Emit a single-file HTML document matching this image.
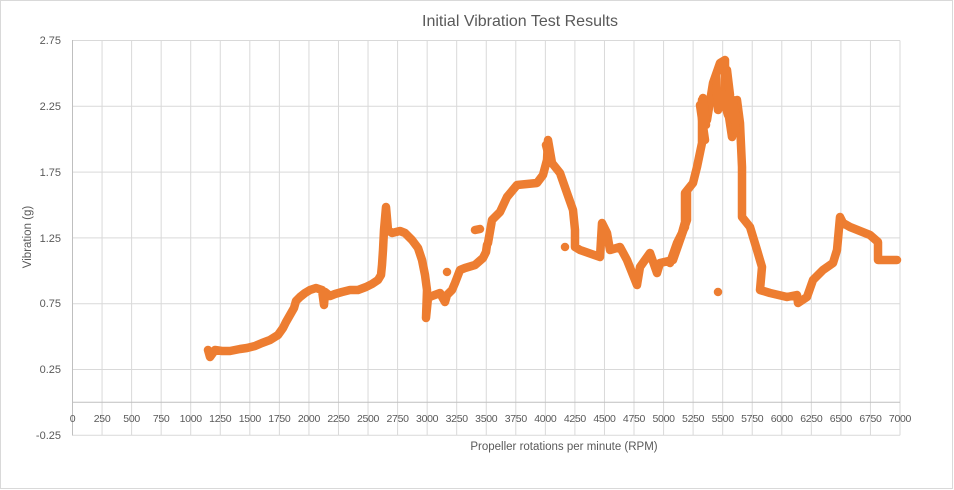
<!DOCTYPE html>
<html><head><meta charset="utf-8"><style>
html,body{margin:0;padding:0;background:#fff}
svg{display:block;font-family:"Liberation Sans",sans-serif}
</style></head><body>
<svg width="954" height="490" viewBox="0 0 954 490">
<rect x="0.5" y="0.5" width="952" height="488" fill="#fff" stroke="#d9d9d9"/>
<g stroke="#d9d9d9" stroke-width="1">
<line x1="72.5" y1="40.5" x2="900" y2="40.5"/>
<line x1="72.5" y1="106.3" x2="900" y2="106.3"/>
<line x1="72.5" y1="172.1" x2="900" y2="172.1"/>
<line x1="72.5" y1="237.9" x2="900" y2="237.9"/>
<line x1="72.5" y1="303.7" x2="900" y2="303.7"/>
<line x1="72.5" y1="369.5" x2="900" y2="369.5"/>
<line x1="72.5" y1="435.3" x2="900" y2="435.3"/>
</g>
<g id="vg" stroke="#d9d9d9" stroke-width="1"></g>
<line x1="72.5" y1="40" x2="72.5" y2="435.5" stroke="#bfbfbf"/>
<line x1="72.5" y1="402.3" x2="900" y2="402.3" stroke="#bfbfbf"/>
<g font-size="11" fill="#595959" text-anchor="end">
<text x="61" y="44">2.75</text><text x="61" y="110">2.25</text><text x="61" y="176">1.75</text>
<text x="61" y="242">1.25</text><text x="61" y="307">0.75</text><text x="61" y="373">0.25</text><text x="61" y="439">-0.25</text>
</g>
<g id="xl" font-size="10.5" fill="#595959" text-anchor="middle" letter-spacing="-0.3"></g>
<text x="520" y="26" font-size="16" fill="#595959" text-anchor="middle">Initial Vibration Test Results</text>
<text x="564" y="450" font-size="11.5" fill="#595959" text-anchor="middle">Propeller rotations per minute (RPM)</text>
<text transform="translate(31,237) rotate(-90)" font-size="11.5" fill="#595959" text-anchor="middle">Vibration (g)</text>
<g fill="none" stroke="#ED7D31" stroke-width="8.5" stroke-linecap="round" stroke-linejoin="round">
<path d="M208,350 L210,357 L215,350 L222,351 L230,351 L240,349 L247,348 L255,346 L262,343 L270,340 L278,335 L283,328 L286,322 L290,315 L294,308 L296,301 L300,297 L305,293 L310,290 L316,288 L322,290 L324,305 L325,292 L330,296 L335,294 L342,292 L350,290 L358,290 L366,287 L372,284 L378,280 L381,275 L382,265 L383,250 L384,230 L386,207 L388,230 L392,233 L400,231 L405,233 L412,240 L418,248 L422,260 L425,275 L427,290 L426,318 L428,298 L432,296 L440,293 L445,302 L447,295 L452,290 L455,283 L460,270 L465,268 L475,265 L483,258 L486,252 L487,245 L488,243 L492,220 L500,212 L507,197 L517,185 L537,183 L543,175 L547,160 L548,140 L552,163 L560,173 L567,193 L573,210 L575,230 L575,247 L580,250 L600,257 L602,223 L607,233 L610,250 L620,247 L627,260 L637,285 L640,267 L650,253 L657,273 L660,263 L673,260 L680,240 L687,220 L687,192 L687,215 L680,240 L670,263 L677,243 L685,227 L685,193 L693,183 L697,167 L702,143 L702,100 L707,120 L713,83 L720,63 L725,60 L725,90 L732,137 L737,100 L740,123 L742,167 L742,217 L750,227 L757,250 L762,267 L760,290 L770,293 L787,297 L797,295 L798,303 L807,297 L813,280 L823,270 L833,263 L837,250 L840,217 L843,223 L850,227 L870,235 L878,242 L878,260 L897,260"/>
<path d="M718,292 L718,292 M565,247 L565,247 M447,272 L447,272 M475,230 L480,229 M546,145 L550,160 M700,105 L705,140 M703,98 L706,125 M716,75 L718,110 L722,95 L728,115 L733,100 L736,130 M727,70 L730,95 M734,110 L738,120"/>
</g>
<script>
var vg=document.getElementById('vg'),xl=document.getElementById('xl'),ns='http://www.w3.org/2000/svg';
for(var i=0;i<=28;i++){var x=72.5+i*827.5/28;
if(i>0){var l=document.createElementNS(ns,'line');l.setAttribute('x1',x);l.setAttribute('x2',x);l.setAttribute('y1',40.5);l.setAttribute('y2',435.3);vg.appendChild(l);}
var t=document.createElementNS(ns,'text');t.setAttribute('x',x);t.setAttribute('y',422);t.textContent=i*250;xl.appendChild(t);}
</script>
</svg>
</body></html>
